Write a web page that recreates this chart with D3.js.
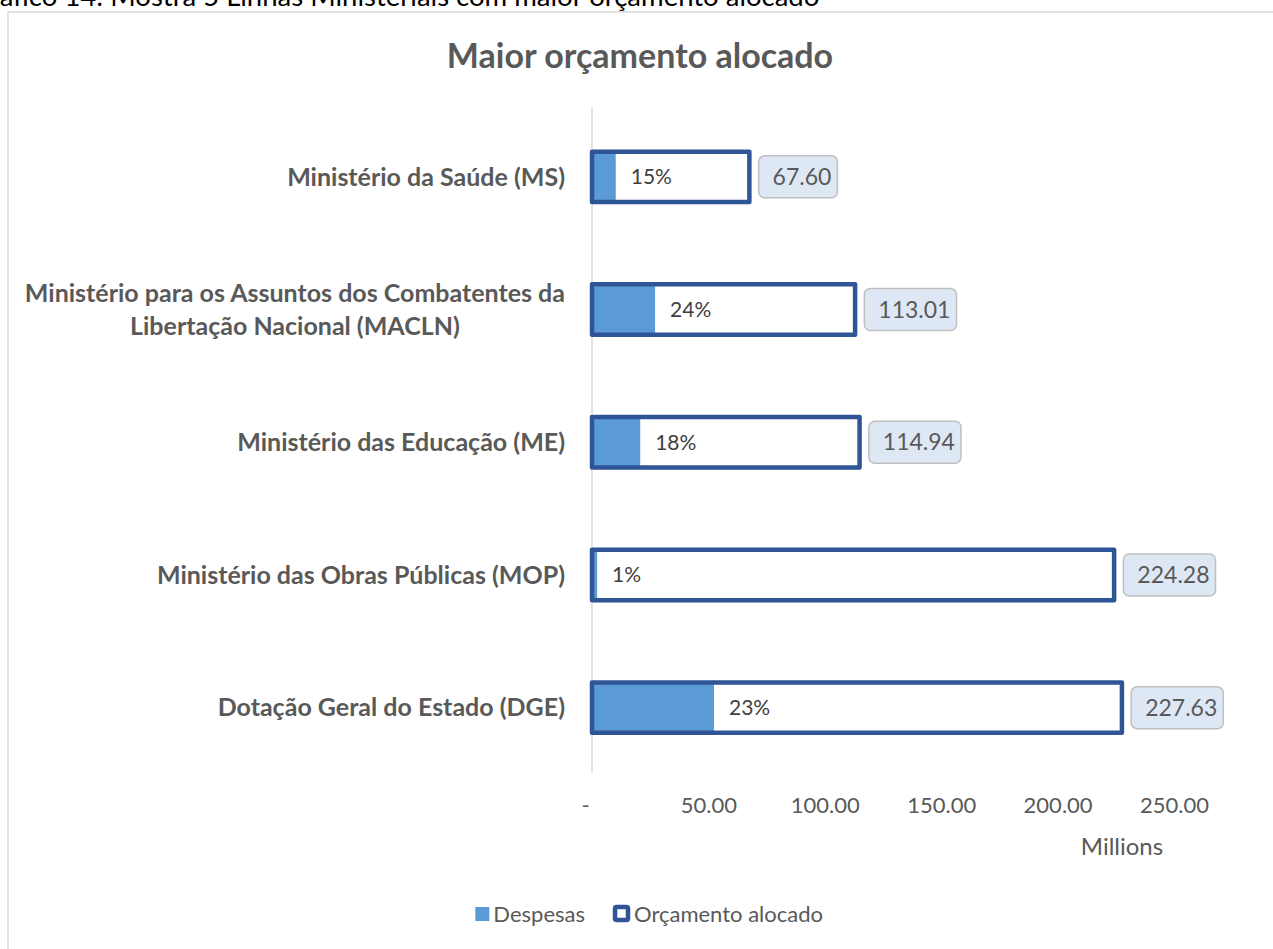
<!DOCTYPE html>
<html>
<head>
<meta charset="utf-8">
<script src="https://cdn.jsdelivr.net/npm/d3@7"></script>
<style>
  body { margin: 0; background: #fff; }
  svg { display: block; font-family: Lato, "Open Sans", sans-serif; }
</style>
</head>
<body>
<svg id="chart" width="1273" height="949"></svg>
<script>
// Values (millions)
const categories = [
  ['Ministério da Saúde (MS)'],
  ['Ministério para os Assuntos dos Combatentes da', 'Libertação Nacional (MACLN)'],
  ['Ministério das Educação (ME)'],
  ['Ministério das Obras Públicas (MOP)'],
  ['Dotação Geral do Estado (DGE)']
];
const orcamento = [67.60, 113.01, 114.94, 224.28, 227.63];
const despesas = [10.2, 27.1, 20.7, 2.2, 52.4];
const despesasPct = ['15%', '24%', '18%', '1%', '23%'];
const xTicks = [0, 50, 100, 150, 200, 250];
const seriesNames = ['Despesas', 'Orçamento alocado'];

const fillBlue = '#5b9bd5',
  darkBlue = '#2f5597',
  grey = '#595959';

let svg = d3.select('#chart');

// caption above the chart (cut off by the page top, as in the source)
svg.append('text')
  .attr('x', -30).attr('y', 6)
  .attr('font-size', 27.5)
  .attr('fill', '#000')
  .text('Gráfico 14: Mostra 5 Linhas Ministeriais com maior orçamento alocado');

// chart frame
svg.append('path')
  .attr('d', 'M8,949 V12 H1273')
  .attr('fill', 'none')
  .attr('stroke', '#d9d9d9')
  .attr('stroke-width', 1.5);

svg.append('text')
  .attr('x', 640).attr('y', 68)
  .attr('text-anchor', 'middle')
  .attr('font-size', 34)
  .attr('font-weight', 'bold')
  .attr('fill', grey)
  .text('Maior orçamento alocado');

let x = d3.scaleLinear().domain([0, 250]).range([592, 1174]);
let y = d3.scaleBand().domain(d3.range(categories.length))
  .range([110.5, 774]).paddingInner(0.62).paddingOuter(0.31);

// x axis labels
let axis = svg.append('g')
  .attr('transform', 'translate(0,794)')
  .call(d3.axisBottom(x).tickValues(xTicks).tickSize(0)
    .tickFormat(d => d === 0 ? '-' : d3.format('.2f')(d)));
axis.select('.domain').remove();
axis.selectAll('text')
  .attr('font-family', 'Lato, sans-serif')
  .attr('font-size', 22)
  .attr('fill', grey)
  .attr('dx', d => d === 0 ? -7 : 0);

svg.append('text')
  .attr('x', 1122).attr('y', 855)
  .attr('text-anchor', 'middle')
  .attr('font-size', 24)
  .attr('fill', grey)
  .text('Millions');

// category labels
let cat = svg.append('g').selectAll('text')
  .data(categories)
  .enter().append('text')
  .attr('font-size', 25)
  .attr('font-weight', 'bold')
  .attr('fill', grey)
  .attr('text-anchor', 'middle');

cat.each(function (lines, i) {
  let t = d3.select(this);
  let cy = y(i) + y.bandwidth() / 2;
  lines.forEach((line, j) => {
    t.append('tspan')
      .attr('x', 0)
      .attr('y', cy + (j - (lines.length - 1) / 2) * 33)
      .attr('dy', '0.35em')
      .text(line);
  });
});
// right-align each block at x = 565, lines centred within the block
cat.each(function () {
  let w = this.getBBox().width;
  d3.select(this).selectAll('tspan').attr('x', 565 - w / 2);
});

// vertical axis line
svg.append('line')
  .attr('x1', 592).attr('x2', 592)
  .attr('y1', 108).attr('y2', 772)
  .attr('stroke', '#d9d9d9')
  .attr('stroke-width', 1.5);

const sw = 4.5;
let bars = svg.append('g').selectAll('g')
  .data(orcamento)
  .enter().append('g');

bars.append('rect')
  .attr('x', x(0))
  .attr('y', (d, i) => y(i))
  .attr('width', d => x(d) - x(0))
  .attr('height', y.bandwidth())
  .attr('fill', '#fff');

bars.append('rect')
  .attr('x', x(0))
  .attr('y', (d, i) => y(i))
  .attr('width', (d, i) => x(despesas[i]) - x(0))
  .attr('height', y.bandwidth())
  .attr('fill', fillBlue);

bars.append('rect')
  .attr('x', x(0))
  .attr('y', (d, i) => y(i))
  .attr('width', d => x(d) - x(0))
  .attr('height', y.bandwidth())
  .attr('fill', 'none')
  .attr('stroke', darkBlue)
  .attr('stroke-width', sw)
  .attr('stroke-linejoin', 'round');

// percentage labels for Despesas
bars.append('text')
  .attr('x', (d, i) => x(despesas[i]) + 15)
  .attr('y', (d, i) => y(i) + y.bandwidth() / 2)
  .attr('dy', '0.35em')
  .attr('font-size', 21)
  .attr('fill', '#404040')
  .text((d, i) => despesasPct[i]);

// value boxes for Orçamento alocado
bars.each(function (d, i) {
  let g = d3.select(this);
  let cy = y(i) + y.bandwidth() / 2;
  let txt = g.append('text')
    .attr('y', cy)
    .attr('dy', '0.35em')
    .attr('font-size', 23)
    .attr('fill', grey)
    .text(d3.format('.2f')(d));
  let w = txt.node().getBBox().width;
  let bx = x(d) + sw / 2 + 7;
  g.insert('rect', 'text:last-of-type')
    .attr('x', bx)
    .attr('y', cy - 21)
    .attr('width', w + 20)
    .attr('height', 42)
    .attr('rx', 6)
    .attr('fill', '#dee8f5')
    .attr('stroke', '#bfbfbf')
    .attr('stroke-width', 1.5);
  txt.attr('x', bx + 14);
});

// legend
let legend = svg.append('g').attr('transform', 'translate(0,914)');
let l1 = legend.append('text')
  .attr('x', 585).attr('dy', '0.35em')
  .attr('text-anchor', 'end')
  .attr('font-size', 22).attr('fill', grey)
  .text(seriesNames[0]);
let l1x = 585 - l1.node().getBBox().width;
legend.append('rect')
  .attr('x', l1x - 18).attr('y', -7).attr('width', 14).attr('height', 14)
  .attr('fill', fillBlue);
legend.append('rect')
  .attr('x', 615).attr('y', -7).attr('width', 13).attr('height', 13)
  .attr('fill', '#fff')
  .attr('stroke', darkBlue).attr('stroke-width', 4.5)
  .attr('rx', 1.5);
legend.append('text')
  .attr('x', 634).attr('dy', '0.35em')
  .attr('font-size', 22).attr('fill', grey)
  .text(seriesNames[1]);
</script>
</body>
</html>
